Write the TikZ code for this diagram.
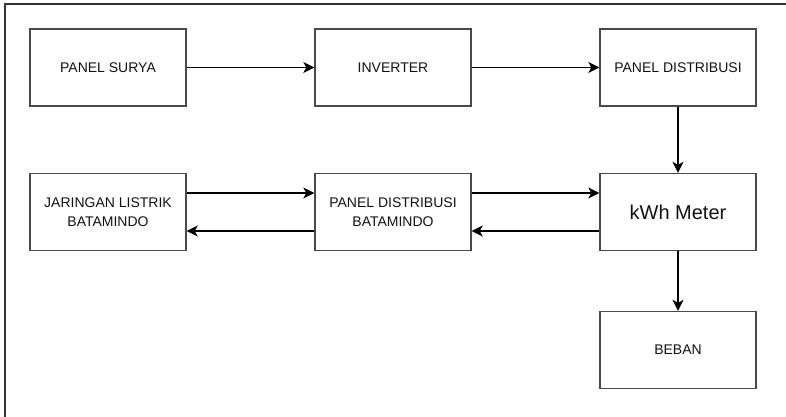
\documentclass[tikz,border=0pt]{standalone}
\usepackage{fontspec}
\setmainfont{Liberation Sans}
\usetikzlibrary{arrows.meta}
\definecolor{boxgray}{HTML}{4A4A4A}
\definecolor{txtgray}{HTML}{111111}
\begin{document}
\begin{tikzpicture}[x=1pt,y=-1pt,
  blok/.style={draw=boxgray,line width=1.4pt,minimum width=156pt,minimum height=77pt,
    align=center,text=txtgray,font=\fontsize{14pt}{18.5pt}\selectfont},
  panah/.style={line width=1.4pt,-{Stealth[length=11pt,width=11pt,inset=3pt]}}]
\useasboundingbox (0,0) rectangle (786,417);
\draw[line width=2pt,black!80] (786,4.5)--(5,4.5)--(5,417);

\node[blok] (surya) at (108,67.5) {PANEL SURYA};
\node[blok] (inverter) at (393,67.5) {INVERTER};
\node[blok] (distribusi) at (678,67.5) {PANEL DISTRIBUSI};
\node[blok] (jaringan) at (108,212) {JARINGAN LISTRIK\\BATAMINDO};
\node[blok] (pdbatam) at (393,212) {PANEL DISTRIBUSI\\BATAMINDO};
\node[blok,font=\fontsize{20pt}{24pt}\selectfont] (kwh) at (678,212) {kWh Meter};
\node[blok] (beban) at (678,350) {BEBAN};

\draw[panah] (surya)--(inverter);
\draw[panah] (inverter)--(distribusi);
\draw[panah] (distribusi)--(kwh);
\draw[panah] (kwh)--(beban);
\draw[panah] ([yshift=19pt]jaringan.east)--([yshift=19pt]pdbatam.west);
\draw[panah] ([yshift=19pt]pdbatam.east)--([yshift=19pt]kwh.west);
\draw[panah] ([yshift=-19pt]kwh.west)--([yshift=-19pt]pdbatam.east);
\draw[panah] ([yshift=-19pt]pdbatam.west)--([yshift=-19pt]jaringan.east);

\end{tikzpicture}
\end{document}
